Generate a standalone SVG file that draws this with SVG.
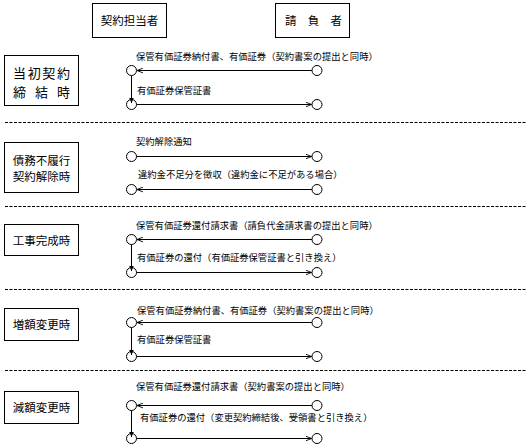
<svg xmlns="http://www.w3.org/2000/svg" width="531" height="447" viewBox="0 0 531 447">
<style>
text{font-family:"Noto Sans CJK JP","Noto Sans CJK SC",sans-serif;fill:#000}
.lbl{font-size:9.3px}
.box{font-size:11.5px;text-anchor:middle}
.big{font-size:13px}
.frame{fill:#fff;stroke:#000;stroke-width:1}
circle{fill:#fff;stroke:#000;stroke-width:1}
.ln{stroke:#000;stroke-width:1;fill:none}
.open{marker-end:url(#ao)}
.fill{marker-end:url(#af)}
.dash{stroke:#000;stroke-width:1;stroke-dasharray:3 1.5}
</style>
<defs>
<marker id="ao" viewBox="0 0 10 10" refX="10" refY="5" markerWidth="6" markerHeight="6" orient="auto" markerUnits="userSpaceOnUse"><path d="M0,1 L10,5 L0,9" fill="none" stroke="#000" stroke-width="1.5"/></marker>
<marker id="af" viewBox="0 0 10 10" refX="10" refY="5" markerWidth="6" markerHeight="5" orient="auto" markerUnits="userSpaceOnUse"><path d="M0,0.5 L10,5 L0,9.5 z" fill="#000"/></marker>
</defs>
<rect width="531" height="447" fill="#fff"/>

<g id="actor-keiyaku"><rect class="frame" x="92.5" y="3.5" width="74" height="34"/><text class="box" x="129.5" y="24.5">契約担当者</text></g>
<g id="actor-ukeoi"><rect class="frame" x="275.5" y="3.5" width="74" height="34"/><text class="box" x="285" y="24.5" style="text-anchor:start" textLength="57" lengthAdjust="spacing">請　負　者</text></g>

<g id="sep">
<line class="dash" x1="5" y1="122.5" x2="526" y2="122.5"/>
<line class="dash" x1="5" y1="206.5" x2="526" y2="206.5"/>
<line class="dash" x1="5" y1="289.5" x2="526" y2="289.5"/>
<line class="dash" x1="5" y1="370.5" x2="526" y2="370.5"/>
</g>

<g id="phase1"><rect class="frame" x="4.5" y="55.5" width="74" height="50"/>
<text class="big" x="13" y="77.5" textLength="57" lengthAdjust="spacing">当初契約</text>
<text class="big" x="13" y="96.5" textLength="57" lengthAdjust="spacing">締　結　時</text></g>
<g id="phase2"><rect class="frame" x="4.5" y="142.5" width="74" height="50"/>
<text class="box" x="41.5" y="164.5">債務不履行</text>
<text class="box" x="41.5" y="181">契約解除時</text></g>
<g id="phase3"><rect class="frame" x="4.5" y="224.5" width="74" height="31"/><text class="box" x="41.5" y="244.5">工事完成時</text></g>
<g id="phase4"><rect class="frame" x="4.5" y="308.5" width="74" height="32"/><text class="box" x="41.5" y="328.5">増額変更時</text></g>
<g id="phase5"><rect class="frame" x="4.5" y="391.5" width="74" height="32"/><text class="box" x="41.5" y="411.5">減額変更時</text></g>

<g id="nodes">
<circle cx="131.5" cy="70.5" r="5"/><circle cx="317" cy="70.5" r="5"/>
<circle cx="131.5" cy="104.5" r="5"/><circle cx="317" cy="104.5" r="5"/>
<circle cx="131.5" cy="156.5" r="5"/><circle cx="317" cy="156.5" r="5"/>
<circle cx="131.5" cy="189.5" r="5"/><circle cx="317" cy="189.5" r="5"/>
<circle cx="131.5" cy="239.5" r="5"/><circle cx="317" cy="239.5" r="5"/>
<circle cx="131.5" cy="272.5" r="5"/><circle cx="317" cy="272.5" r="5"/>
<circle cx="131.5" cy="322.5" r="5"/><circle cx="317" cy="322.5" r="5"/>
<circle cx="131.5" cy="356.5" r="5"/><circle cx="317" cy="356.5" r="5"/>
<circle cx="131.5" cy="405.5" r="5"/><circle cx="317" cy="405.5" r="5"/>
<circle cx="131.5" cy="438.5" r="5"/><circle cx="317" cy="438.5" r="5"/>
</g>

<g id="connectors">
<line class="ln open" x1="312" y1="70.5" x2="137" y2="70.5"/>
<line class="ln fill" x1="131.5" y1="75.5" x2="131.5" y2="103"/>
<line class="ln open" x1="136.5" y1="104.5" x2="311.5" y2="104.5"/>
<line class="ln open" x1="136.5" y1="156.5" x2="311.5" y2="156.5"/>
<line class="ln open" x1="312" y1="189.5" x2="137" y2="189.5"/>
<line class="ln open" x1="312" y1="239.5" x2="137" y2="239.5"/>
<line class="ln fill" x1="131.5" y1="244.5" x2="131.5" y2="271"/>
<line class="ln open" x1="136.5" y1="272.5" x2="311.5" y2="272.5"/>
<line class="ln open" x1="312" y1="322.5" x2="137" y2="322.5"/>
<line class="ln fill" x1="131.5" y1="327.5" x2="131.5" y2="355"/>
<line class="ln open" x1="136.5" y1="356.5" x2="311.5" y2="356.5"/>
<line class="ln open" x1="312" y1="405.5" x2="137" y2="405.5"/>
<line class="ln fill" x1="131.5" y1="410.5" x2="131.5" y2="437"/>
<line class="ln open" x1="136.5" y1="438.5" x2="311.5" y2="438.5"/>
</g>

<g id="labels">
<text class="lbl" x="136" y="60">保管有価証券納付書、有価証券（契約書案の提出と同時）</text>
<text class="lbl" x="137" y="93.5">有価証券保管証書</text>
<text class="lbl" x="136" y="145.4">契約解除通知</text>
<text class="lbl" x="138" y="178">違約金不足分を徴収（違約金に不足がある場合）</text>
<text class="lbl" x="136" y="228.5">保管有価証券還付請求書（請負代金請求書の提出と同時）</text>
<text class="lbl" x="137" y="260.5">有価証券の還付（有価証券保管証書と引き換え）</text>
<text class="lbl" x="137" y="313.5">保管有価証券納付書、有価証券（契約書案の提出と同時）</text>
<text class="lbl" x="137" y="342.5">有価証券保管証書</text>
<text class="lbl" x="136" y="389.5">保管有価証券還付請求書（契約書案の提出と同時）</text>
<text class="lbl" x="140" y="420.5">有価証券の還付（変更契約締結後、受領書と引き換え）</text>
</g>
</svg>
